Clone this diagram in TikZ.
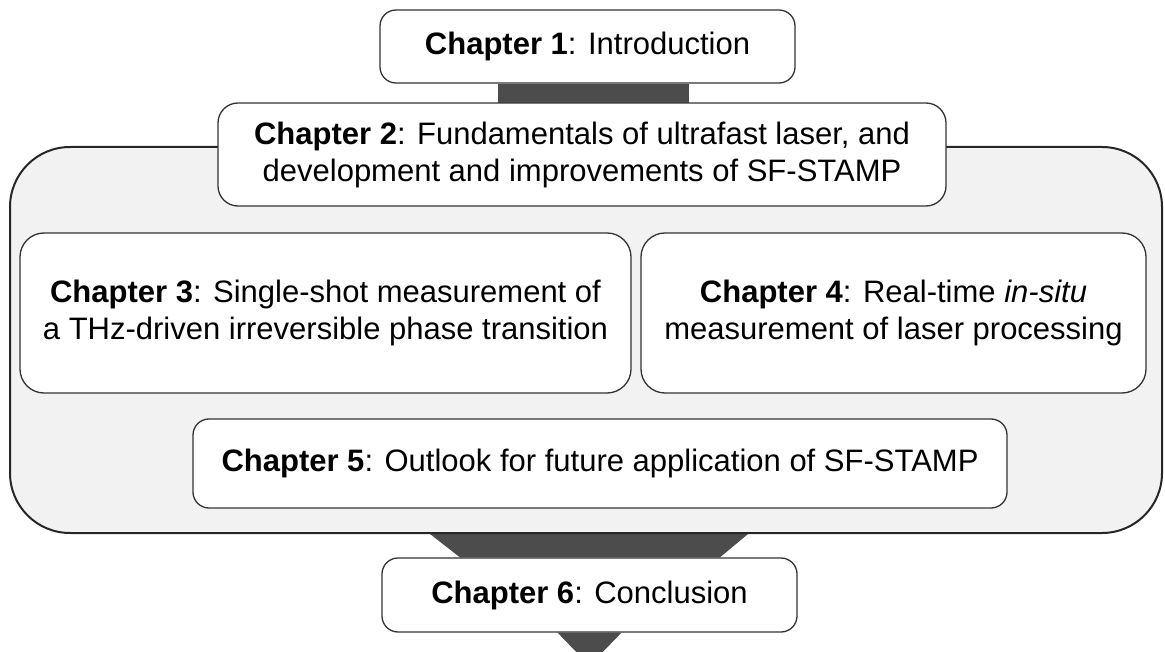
\documentclass[tikz,border=0pt]{standalone}
\usepackage{fontspec}
\setmainfont{Liberation Sans}
\usepackage{xcolor}
\usepackage{tikz}
\usetikzlibrary{backgrounds}

\begin{document}
\begin{tikzpicture}[x=1pt,y=-1pt,
    every node/.style={align=center,inner sep=0pt,font=\fontsize{31}{37}\selectfont},
    chap/.style={draw=black!80,line width=1.3pt,fill=white,rounded corners=16pt},
    bar/.style={fill=black!70},
    frame/.style={draw=black!85,line width=2pt,fill=black!5,rounded corners=60pt}]
      \useasboundingbox (0,0) rectangle (1165,652);
      % outer frame for chapters 2--5
      \node[frame,minimum width=1152,minimum height=386] (frm) at (586,340) {};
      \node[chap,minimum width=415,minimum height=73] (c1) at (587.5,46.5) {\textbf{Chapter 1}: Introduction};
      \fill[bar] ([xshift=-89.5]c1.south) rectangle ([xshift=101]c1.south |- 0,103);
      \node[chap,rounded corners=20pt,minimum width=728,minimum height=103] (c2) at (582,154.5)
        {\textbf{Chapter 2}: Fundamentals of ultrafast laser, and\\development and improvements of SF-STAMP};
      \node[chap,rounded corners=24pt,minimum width=611,minimum height=160] (c3) at (325.5,313)
        {\textbf{Chapter 3}: Single-shot measurement of\\a THz-driven irreversible phase transition};
      \node[chap,rounded corners=24pt,minimum width=505,minimum height=160] (c4) at (893.5,313)
        {\textbf{Chapter 4}: Real-time \textit{in-situ}\\measurement of laser processing};
      \node[chap,minimum width=814,minimum height=89] (c5) at (600,463.5)
        {\textbf{Chapter 5}: Outlook for future application of SF-STAMP};
      \node[chap,minimum width=415,minimum height=74] (c6) at (589.5,595) {\textbf{Chapter 6}: Conclusion};
      % arrows between blocks
      \begin{scope}[on background layer]
        \fill[bar] ([xshift=-156]frm.south) -- ([xshift=162]frm.south) -- ([xshift=130.5]c6.north)
          -- ([xshift=-129.5]c6.north) -- cycle;
        \fill[bar] ([xshift=-32]c6.south) -- ([xshift=32]c6.south) -- ([yshift=-33]c6.south) -- cycle;
      \end{scope}
\end{tikzpicture}
\end{document}
